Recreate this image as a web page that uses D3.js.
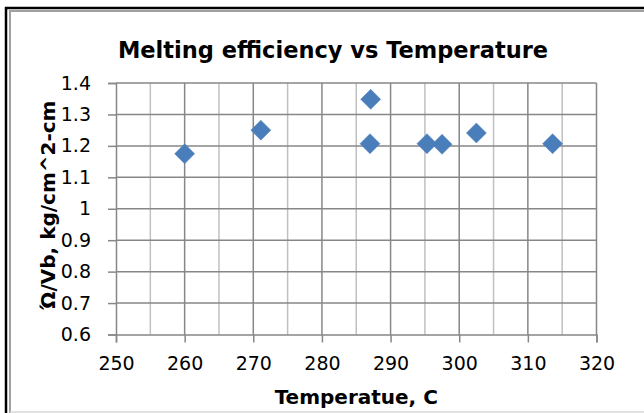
<!DOCTYPE html>
<html><head><meta charset="utf-8">
<script src="https://cdn.jsdelivr.net/npm/d3@7"></script>
<style>
body{margin:0;background:#fff;}
text{font-family:"DejaVu Sans",sans-serif;fill:#000;}
</style></head>
<body>
<svg id="c" width="644" height="413"></svg>
<script>
const temperatures = [260, 271.1, 287.1, 287.0, 295.3, 297.5, 302.5, 313.6];
const efficiency   = [1.175, 1.250, 1.348, 1.207, 1.207, 1.205, 1.241, 1.207];
const xTicks = [250, 260, 270, 280, 290, 300, 310, 320];
const yTicks = [0.6, 0.7, 0.8, 0.9, 1.0, 1.1, 1.2, 1.3, 1.4];
const title = "Melting efficiency vs Temperature";
const xTitle = "Temperatue, C";
const yTitle = "Ώ/Vb, kg/cm^2-cm";

const svg = d3.select("#c");
svg.append("rect").attr("x",0).attr("y",0).attr("width",644).attr("height",413).attr("fill","#fff");
svg.append("line").attr("x1",6).attr("x2",6).attr("y1",7).attr("y2",413).attr("stroke","#000").attr("stroke-width",2.5);
svg.append("line").attr("x1",5).attr("x2",644).attr("y1",8).attr("y2",8).attr("stroke","#000").attr("stroke-width",2.5);
svg.append("line").attr("x1",10).attr("x2",10).attr("y1",10).attr("y2",413).attr("stroke","#a0a0a0").attr("stroke-width",2);
svg.append("line").attr("x1",9).attr("x2",644).attr("y1",11).attr("y2",11).attr("stroke","#a0a0a0").attr("stroke-width",2);
svg.append("line").attr("x1",10).attr("x2",644).attr("y1",412).attr("y2",412).attr("stroke","#d9d9d9").attr("stroke-width",1.5);

const L=116, R=596.5, T=83, B=334.5;
const x = d3.scaleLinear().domain([250,320]).range([L,R]);
const y = d3.scaleLinear().domain([0.6,1.4]).range([B,T]);

const g = svg.append("g");
const minor = d3.range(255,320,10);
g.selectAll(".mn").data(minor).join("line")
 .attr("x1",d=>x(d)).attr("x2",d=>x(d)).attr("y1",T).attr("y2",B)
 .attr("stroke","#c0c0c0").attr("stroke-width",1.5);
g.selectAll(".mj").data(xTicks.slice(1)).join("line")
 .attr("x1",d=>x(d)).attr("x2",d=>x(d)).attr("y1",T).attr("y2",B)
 .attr("stroke","#878787").attr("stroke-width",1.5);
g.selectAll(".hz").data(yTicks.slice(1)).join("line")
 .attr("x1",L).attr("x2",R).attr("y1",d=>y(d)).attr("y2",d=>y(d))
 .attr("stroke","#878787").attr("stroke-width",1.5);

const xAxis = d3.axisBottom(x).tickValues(xTicks).tickSize(8).tickPadding(14).tickFormat(d3.format("d"));
const xa = svg.append("g").attr("transform",`translate(0,${B})`).call(xAxis);
xa.select(".domain").attr("stroke","#878787").attr("stroke-width",1.5);
xa.selectAll(".tick line").attr("stroke","#878787").attr("stroke-width",1.5);
xa.selectAll(".tick text").attr("font-size",19).attr("font-family","DejaVu Sans").attr("fill","#000");

const yAxis = d3.axisLeft(y).tickValues(yTicks).tickSize(8).tickPadding(17).tickFormat(d=>d3.format("")(Math.round(d*10)/10));
const ya = svg.append("g").attr("transform",`translate(${L},0)`).call(yAxis);
ya.select(".domain").attr("stroke","#878787").attr("stroke-width",1.5);
ya.selectAll(".tick line").attr("stroke","#878787").attr("stroke-width",1.5);
ya.selectAll(".tick text").attr("font-size",19).attr("font-family","DejaVu Sans").attr("fill","#000");

svg.append("text").attr("x",333).attr("y",58).attr("text-anchor","middle")
 .attr("font-size",22.5).attr("font-weight","bold").text(title);
svg.append("text").attr("x",(L+R)/2).attr("y",404).attr("text-anchor","middle")
 .attr("font-size",20).attr("font-weight","bold").text(xTitle);
svg.append("text").attr("transform","translate(55,205) rotate(-90)").attr("text-anchor","middle")
 .attr("font-size",20).attr("font-weight","bold").text(yTitle);

const data = temperatures.map((t,i)=>({t, v:efficiency[i]}));
svg.selectAll(".pt").data(data).join("path")
 .attr("transform",d=>`translate(${x(d.t)},${y(d.v)})`)
 .attr("d","M0,-10L10,0L0,10L-10,0Z")
 .attr("fill","#4a7ebb").attr("stroke","#4f81bd").attr("stroke-width",0.5);
</script>
</body></html>
